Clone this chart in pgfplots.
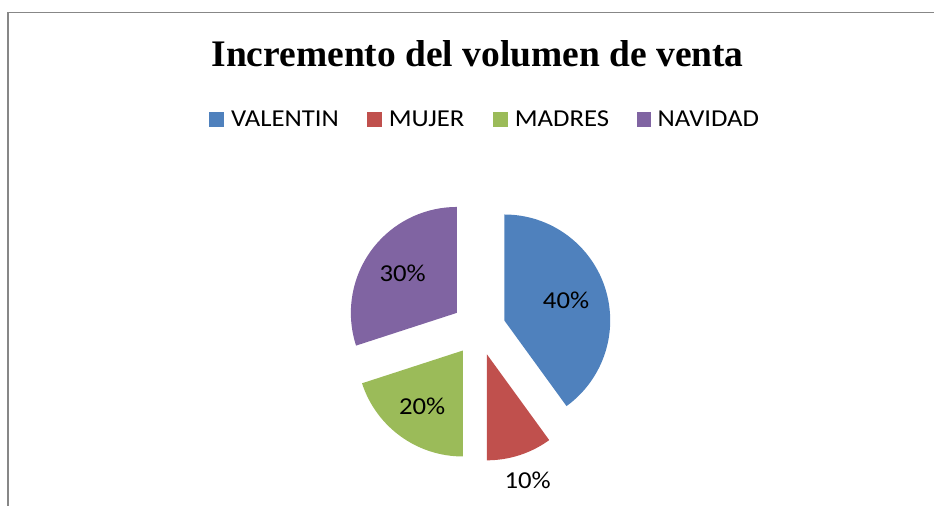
\documentclass[border=0pt]{standalone}
\usepackage{fontspec}
\setmainfont{Carlito}[FakeStretch=1.1]
\newfontfamily\titlefont{Liberation Serif}
\usepackage{pgfplots}
\usepackage{pgfplotstable}
\pgfplotsset{compat=1.18}
\definecolor{pieblue}{HTML}{4F81BD}
\definecolor{piered}{HTML}{C0504D}
\definecolor{piegreen}{HTML}{9BBB59}
\definecolor{piepurple}{HTML}{8064A2}
\definecolor{framegray}{HTML}{878787}
\newcommand\labelfont{\fontsize{24.3}{29}\selectfont}
\pgfplotstableread{
label value color ldist
VALENTIN 40 pieblue 65
MUJER 10 piered 132
MADRES 20 piegreen 69
NAVIDAD 30 piepurple 67
}\piedata
\begin{document}
\begin{tikzpicture}
\begin{axis}[width=935pt,height=506pt,scale only axis,
  xmin=0,xmax=935,ymin=0,ymax=506,hide axis,clip=false]
\path (axis cs:0,0) rectangle (axis cs:935,506);
% frame
\draw[framegray,line width=1.5pt] (axis cs:8,0) -- (axis cs:8,493.5) -- (axis cs:935,493.5);
% title
\node[anchor=base,font=\titlefont\bfseries\fontsize{37.5}{40}\selectfont] at (axis cs:478,439.3) {Incremento del volumen de venta};
% pie
\def\cum{0}
\pgfplotsforeachungrouped \i in {0,...,3}{%
  \pgfplotstablegetelem{\i}{value}\of\piedata \let\pval=\pgfplotsretval
  \pgfplotstablegetelem{\i}{color}\of\piedata \let\pcol=\pgfplotsretval
  \pgfplotstablegetelem{\i}{ldist}\of\piedata \let\pld=\pgfplotsretval
  \pgfmathsetmacro\sa{90-3.6*\cum}%
  \pgfmathsetmacro\sb{90-3.6*(\cum+\pval)}%
  \pgfmathsetmacro\sm{(\sa+\sb)/2}%
  \pgfmathsetmacro\scx{479+27*cos(\sm)}%
  \pgfmathsetmacro\scy{(506-329)+27*sin(\sm)}%
  \pgfmathsetmacro\lx{\scx+\pld*cos(\sm)}%
  \pgfmathsetmacro\ly{\scy+\pld*sin(\sm)}%
  \edef\temp{\noexpand\fill[\pcol] (axis cs:\scx,\scy) -- ++(\sa:106pt) arc[start angle=\sa, end angle=\sb, radius=106pt] -- cycle;}%
  \temp
  \edef\temp{\noexpand\node[font=\noexpand\labelfont,inner sep=0pt] at (axis cs:\lx,\ly) {\pval\noexpand\%};}%
  \temp
  \pgfmathsetmacro\cum{\cum+\pval}%
}
% legend
\fill[pieblue] (axis cs:209,379.3) rectangle (axis cs:224,394);
\node[anchor=base west,inner sep=0pt,font=\labelfont] at (axis cs:231,379.3) {VALENTIN};
\fill[piered] (axis cs:367,379.3) rectangle (axis cs:382,394);
\node[anchor=base west,inner sep=0pt,font=\labelfont] at (axis cs:389,379.3) {MUJER};
\fill[piegreen] (axis cs:493,379.3) rectangle (axis cs:508,394);
\node[anchor=base west,inner sep=0pt,font=\labelfont] at (axis cs:515,379.3) {MADRES};
\fill[piepurple] (axis cs:637,379.3) rectangle (axis cs:652,394);
\node[anchor=base west,inner sep=0pt,font=\labelfont] at (axis cs:658,379.3) {NAVIDAD};
\end{axis}
\end{tikzpicture}
\end{document}
